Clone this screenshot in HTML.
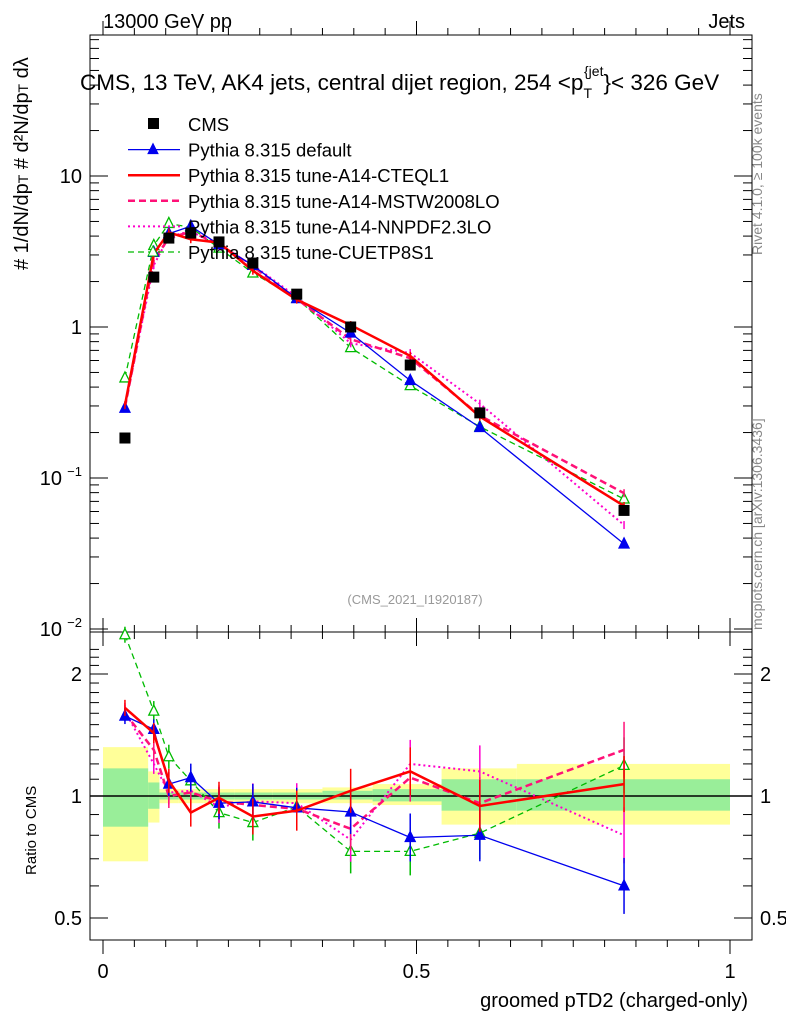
<!DOCTYPE html>
<html><head><meta charset="utf-8"><style>
body{margin:0;background:#fff;}
svg text{font-family:"Liberation Sans",sans-serif;}
</style></head><body>
<svg id="s" width="786" height="1024" xmlns="http://www.w3.org/2000/svg">
<rect x="90" y="35" width="662" height="597" fill="none" stroke="#000"/>
<rect x="90" y="632" width="662" height="308" fill="none" stroke="#000"/>
<g id="bands"></g>
<g id="axes"></g>
<g id="series"></g>
<text x="103" y="28" font-size="20">13000 GeV pp</text>
<text x="745" y="28" font-size="20" text-anchor="end">Jets</text>
<text x="80" y="90" font-size="22.5">CMS, 13 TeV, AK4 jets, central dijet region, 254 &lt;p<tspan font-size="14" dy="8">T</tspan><tspan font-size="14" dy="-22" dx="-8">{jet</tspan><tspan dy="14">}&lt; 326 GeV</tspan></text>
<text x="415" y="604" font-size="13" fill="#999" text-anchor="middle">(CMS_2021_I1920187)</text>
<text transform="translate(762,255) rotate(-90)" font-size="14" fill="#888">Rivet 4.1.0, ≥ 100k events</text>
<text transform="translate(762,630) rotate(-90)" font-size="14" fill="#888">mcplots.cern.ch [arXiv:1306.3436]</text>
<text transform="translate(28,270) rotate(-90)" font-size="20">#  1/dN/dp<tspan font-size="14">T</tspan> # d²N/dp<tspan font-size="14">T</tspan> dλ</text>
<text transform="translate(36,875) rotate(-90)" font-size="15">Ratio to CMS</text>
<text x="748" y="1007" font-size="20" text-anchor="end">groomed pTD2 (charged-only)</text>
<g id="legend"></g>
</svg>
<script>
const xs=[0.035,0.081,0.105,0.14,0.185,0.239,0.309,0.395,0.49,0.601,0.831];
const cms=[0.184,2.14,3.88,4.19,3.66,2.65,1.65,1.0,0.56,0.27,0.061];
const rBlue=[1.575,1.46,1.07,1.11,0.96,0.967,0.935,0.913,0.79,0.8,0.6];
const rRed=[1.65,1.43,1.09,0.91,0.99,0.89,0.92,1.03,1.15,0.945,1.07];
const rMstw=[1.6,1.3,1.0,1.02,0.97,0.95,0.93,0.83,1.11,0.96,1.3];
const rNnpdf=[1.62,1.2,1.02,1.03,0.94,0.97,0.96,0.78,1.2,1.15,0.8];
const rGreen=[2.5,1.62,1.25,1.09,0.91,0.86,0.94,0.73,0.73,0.81,1.19];
const binEdges=[0,0.072,0.09,0.12,0.16,0.21,0.27,0.35,0.43,0.54,0.66,1.0];
const yelLo=[0.69,0.86,0.96,0.96,0.96,0.96,0.96,0.96,0.95,0.85,0.85];
const yelHi=[1.32,1.15,1.04,1.04,1.04,1.04,1.04,1.05,1.07,1.17,1.2];
const grnLo=[0.84,0.93,0.98,0.98,0.98,0.98,0.98,0.98,0.97,0.92,0.92];
const grnHi=[1.17,1.08,1.02,1.02,1.02,1.02,1.02,1.03,1.04,1.1,1.1];
const NS="http://www.w3.org/2000/svg";
const X=v=>103+v*627;
const Y=v=>327-Math.log10(v)*151;
const R=v=>796-Math.log2(v)*122;
function mk(t,a,p){const e=document.createElementNS(NS,t);for(const k in a)e.setAttribute(k,a[k]);(p||document.getElementById('s')).appendChild(e);return e;}
const bands=document.getElementById('bands');
for(let i=0;i<binEdges.length-1;i++){
 const x0=X(binEdges[i]),w=X(binEdges[i+1])-x0;
 const y=mk('rect',{x:x0,y:R(yelHi[i]),width:w,height:R(yelLo[i])-R(yelHi[i]),fill:'#ffff99'},bands);
 
 
 const g=mk('rect',{x:x0,y:R(grnHi[i]),width:w,height:R(grnLo[i])-R(grnHi[i]),fill:'#99ee99'},bands);
 
 
}
const ax=document.getElementById('axes');
mk('line',{x1:90,x2:752,y1:R(1),y2:R(1),stroke:'#000','stroke-width':1.5},ax);
for(let v=0;v<=1.0001;v+=0.05){const big=Math.abs(v*2-Math.round(v*2))<1e-6;const l=big?14:7;
 [[632,1],[940,-1],[632,-1],[35,1]].forEach(([y,d])=>mk('line',{x1:X(v),x2:X(v),y1:y,y2:y-d*l,stroke:'#000'},ax));}
[[0,'0'],[0.5,'0.5'],[1,'1']].forEach(([v,t])=>{const e=mk('text',{x:X(v),y:978,'font-size':20,'text-anchor':'middle'},ax);e.textContent=t;});
for(let d=-2;d<=1;d++){for(let m=1;m<10;m++){const v=m*Math.pow(10,d);const y=Y(v);if(y<35||y>632)continue;const l=m==1?18:9;
 mk('line',{x1:90,x2:90+l,y1:y,y2:y,stroke:'#000'},ax);mk('line',{x1:752,x2:752-l,y1:y,y2:y,stroke:'#000'},ax);}}
[[10,'10'],[1,'1']].forEach(([v,t])=>{const e=mk('text',{x:82,y:Y(v)+7,'font-size':20,'text-anchor':'end'},ax);e.textContent=t;});
[[0.1,'−1'],[0.01,'−2']].forEach(([v,t])=>{const e=mk('text',{x:62,y:Y(v)+7,'font-size':20,'text-anchor':'end'},ax);e.textContent='10';const s=mk('text',{x:82,y:Y(v)-2,'font-size':13,'text-anchor':'end'},ax);s.textContent=t;});
for(let v=0.5;v<=2.31;v+=0.1){const y=R(v);if(y<632||y>940)continue;const big=[0.5,1,2].some(b=>Math.abs(b-v)<1e-6);const l=big?18:9;
 mk('line',{x1:90,x2:90+l,y1:y,y2:y,stroke:'#000'},ax);mk('line',{x1:752,x2:752-l,y1:y,y2:y,stroke:'#000'},ax);}
[[2,'2'],[1,'1'],[0.5,'0.5']].forEach(([v,t])=>{let e=mk('text',{x:82,y:R(v)+7,'font-size':20,'text-anchor':'end'},ax);e.textContent=t;e=mk('text',{x:760,y:R(v)+7,'font-size':20},ax);e.textContent=t;});
const S=document.getElementById('series');
const defs=[
 {r:rGreen,c:'#00bb00',w:1.3,da:'6,4',mk:'tri-open',name:'cuetp8s1'},
 {r:rNnpdf,c:'#ff00cc',w:2,da:'2,3',mk:'none',name:'nnpdf'},
 {r:rMstw,c:'#ff1177',w:2.5,da:'7,4',mk:'none',name:'mstw'},
 {r:rBlue,c:'#0000ee',w:1.3,da:'',mk:'tri',name:'default'},
 {r:rRed,c:'#ff0000',w:2.5,da:'',mk:'none',name:'cteql1'}];
defs.forEach(d=>{
 const mp=xs.map((x,i)=>X(x)+','+Y(cms[i]*d.r[i])).join(' ');
 const a=mk('polyline',{points:mp,fill:'none',stroke:d.c,'stroke-width':d.w,'stroke-dasharray':d.da},S);
 
 
 const rp=xs.map((x,i)=>X(x)+','+R(d.r[i])).join(' ');
 const b=mk('polyline',{points:rp,fill:'none',stroke:d.c,'stroke-width':d.w,'stroke-dasharray':d.da,'clip-path':'url(#rc)'},S);
 
 
 xs.forEach((x,i)=>{
  const px=X(x);
  [[Y(cms[i]*d.r[i]),4],[R(d.r[i]),8+i*2]].forEach(([py,e],k)=>{
   if(py<632&&k==1||py>940)return;
   const l=mk('line',{x1:px,x2:px,y1:py-e,y2:py+e,stroke:d.c,'stroke-width':1.5},S);
   
   
   if(d.mk!='none'){
    const t=mk('polygon',{points:`${px-5},${py+4} ${px+5},${py+4} ${px},${py-6}`,fill:d.mk=='tri'?d.c:'#fff',stroke:d.c,'stroke-width':1.3},S);
    
    
   }
  });
 });
});
const defsEl=mk('defs',{});const cp=mk('clipPath',{id:'rc'},defsEl);mk('rect',{x:90,y:632,width:662,height:308},cp);
xs.forEach((x,i)=>{
 const q=mk('rect',{x:X(x)-5.5,y:Y(cms[i])-5.5,width:11,height:11,fill:'#000'},S);
 
 
});
const L=document.getElementById('legend');
const labels=['CMS','Pythia 8.315 default','Pythia 8.315 tune-A14-CTEQL1','Pythia 8.315 tune-A14-MSTW2008LO','Pythia 8.315 tune-A14-NNPDF2.3LO','Pythia 8.315 tune-CUETP8S1'];
const lstyle=[null,defs[3],defs[4],defs[2],defs[1],defs[0]];
labels.forEach((t,i)=>{
 const y=124+i*25.6;
 if(i==0){mk('rect',{x:148,y:y-6,width:11,height:11,fill:'#000'},L);}
 else{const d=lstyle[i];mk('line',{x1:128,x2:180,y1:y,y2:y,stroke:d.c,'stroke-width':d.w,'stroke-dasharray':d.da},L);
  if(d.mk!='none')mk('polygon',{points:`148,${y+4} 158,${y+4} 153,${y-6}`,fill:d.mk=='tri'?d.c:'#fff',stroke:d.c},L);}
 const e=mk('text',{x:188,y:y+7,'font-size':18.5},L);
 
 
 e.textContent=t;
});
</script>
</body></html>
